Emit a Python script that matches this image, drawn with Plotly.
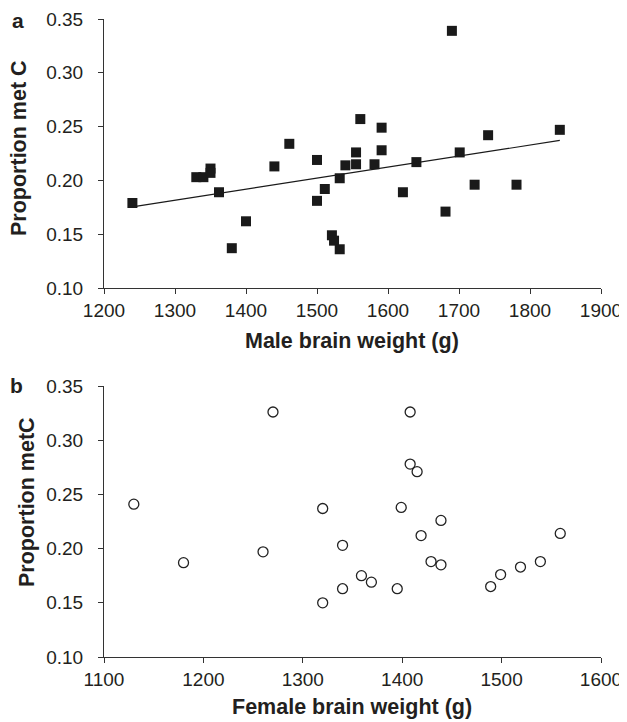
import numpy as np
import plotly.graph_objects as go
from plotly.subplots import make_subplots

# Panel a: male brain weight vs proportion met C
male_weight = [1240, 1330, 1340, 1350, 1350, 1362, 1380, 1400, 1440, 1461,
               1500, 1500, 1511, 1521, 1524, 1532, 1532, 1540, 1555, 1555,
               1561, 1581, 1591, 1591, 1621, 1640, 1681, 1690, 1701, 1722,
               1741, 1781, 1842]
male_prop = [0.179, 0.203, 0.203, 0.211, 0.207, 0.189, 0.137, 0.162, 0.213, 0.234,
             0.219, 0.181, 0.192, 0.149, 0.144, 0.202, 0.136, 0.214, 0.226, 0.215,
             0.257, 0.215, 0.249, 0.228, 0.189, 0.217, 0.171, 0.339, 0.226, 0.196,
             0.242, 0.196, 0.247]

# Panel b: female brain weight vs proportion metC
female_weight = [1130, 1180, 1260, 1270, 1320, 1320, 1340, 1340, 1359, 1369,
                 1395, 1399, 1408, 1408, 1415, 1419, 1429, 1439, 1439, 1489,
                 1499, 1519, 1539, 1559]
female_prop = [0.241, 0.187, 0.197, 0.326, 0.237, 0.150, 0.203, 0.163, 0.175, 0.169,
               0.163, 0.238, 0.326, 0.278, 0.271, 0.212, 0.188, 0.226, 0.185, 0.165,
               0.176, 0.183, 0.188, 0.214]

yticks = [0.10, 0.15, 0.20, 0.25, 0.30, 0.35]
xticks_a = [1200, 1300, 1400, 1500, 1600, 1700, 1800, 1900]
xticks_b = [1100, 1200, 1300, 1400, 1500, 1600]

FONT = "Liberation Sans, Arial, Helvetica, sans-serif"
AX = "#333333"
TXT = "#231f20"

# page body has an 8px default margin; lay the figure out in page pixels
OFF = 8
W, H = 627 - OFF, 722 - OFF
ML, MR, MT, MB = 104 - OFF, 26, 19 - OFF, H - (657 - OFF)
PW, PH = W - ML - MR, H - MT - MB


def px2paper(px, py):
    return (px - OFF - ML) / PW, 1 - (py - OFF - MT) / PH


fig = make_subplots(rows=2, cols=1)

fig.add_trace(go.Scatter(
    x=male_weight, y=male_prop, mode="markers",
    marker=dict(symbol="square", size=10, color="#1a1a1a", line=dict(width=0)),
    showlegend=False, hoverinfo="x+y"), row=1, col=1)

# linear trendline (least-squares fit of panel a data)
coef = np.polyfit(male_weight, male_prop, 1)
tx = [min(male_weight), max(male_weight)]
ty = [coef[0] * v + coef[1] for v in tx]
fig.add_trace(go.Scatter(
    x=tx, y=ty, mode="lines", line=dict(color="#1a1a1a", width=1.2),
    showlegend=False, hoverinfo="skip"), row=1, col=1)

fig.add_trace(go.Scatter(
    x=female_weight, y=female_prop, mode="markers",
    marker=dict(symbol="circle-open", size=10, color="#222222", line=dict(width=1.3)),
    showlegend=False, hoverinfo="x+y"), row=2, col=1)

common_axis = dict(
    showline=True, linecolor=AX, linewidth=1, mirror=False,
    ticks="outside", ticklen=5, tickwidth=1, tickcolor=AX,
    showgrid=False, zeroline=False, automargin=False,
    tickfont=dict(family=FONT, size=19, color=TXT),
)

fig.update_xaxes(**common_axis)
fig.update_yaxes(**common_axis)
fig.update_yaxes(ticklabelstandoff=11)

fig.update_xaxes(range=[1200, 1900], tickvals=xticks_a,
                 ticktext=[str(v) for v in xticks_a], row=1, col=1)
fig.update_xaxes(range=[1100, 1600], tickvals=xticks_b,
                 ticktext=[str(v) for v in xticks_b], row=2, col=1)
fig.update_yaxes(range=[0.10, 0.35], tickvals=yticks,
                 ticktext=[f"{v:.2f}" for v in yticks])

top_lo = 1 - (288 - 19) / PH
bot_hi = (657 - 386) / PH
fig.update_layout(
    width=W, height=H,
    margin=dict(l=ML, r=MR, t=MT, b=MB),
    plot_bgcolor="white", paper_bgcolor="white",
    font=dict(family=FONT, color=TXT),
    xaxis=dict(domain=[0, 1]),
    yaxis=dict(domain=[top_lo, 1.0]),
    xaxis2=dict(domain=[0, 1]),
    yaxis2=dict(domain=[0.0, bot_hi]),
)

title_font = dict(family=FONT, size=21.5, color=TXT)
# panel label "a" anchored at the very top of the figure so it is not clipped
xa, ya = px2paper(18, OFF)
fig.add_annotation(text="<b>a</b>", xref="paper", yref="paper", x=xa, y=ya,
                   xanchor="center", yanchor="top", showarrow=False,
                   borderpad=0, font=dict(family=FONT, size=21, color=TXT))
for txt, px, py, ang in [("<b>b</b>", 16, 385, 0),
                         ("<b>Male brain weight (g)</b>", 352, 341, 0),
                         ("<b>Female brain weight (g)</b>", 352, 707, 0),
                         ("<b>Proportion met C</b>", 19, 148, -90),
                         ("<b>Proportion metC</b>", 27, 502, -90)]:
    x, y = px2paper(px, py)
    fig.add_annotation(text=txt, xref="paper", yref="paper", x=x, y=y,
                       xanchor="center", yanchor="middle", showarrow=False,
                       textangle=ang, font=title_font if ang else
                       (dict(family=FONT, size=21, color=TXT) if txt.startswith("<b>b")
                        else title_font))

fig.write_html("out.html")
